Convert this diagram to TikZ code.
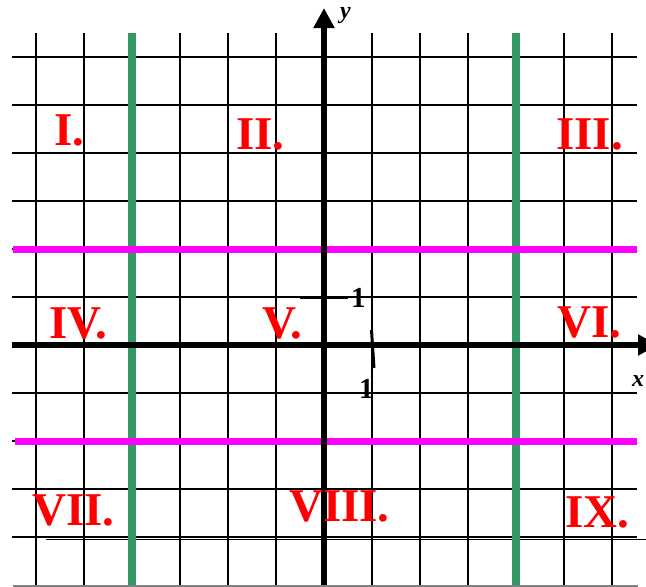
\documentclass[tikz,border=0pt]{standalone}
\usepackage{fontspec}
\setmainfont{Liberation Serif}
\usetikzlibrary{arrows.meta}
\definecolor{gridgreen}{RGB}{51,153,102}
\definecolor{magline}{RGB}{255,0,255}
\definecolor{labred}{RGB}{255,0,0}
\begin{document}
\begin{tikzpicture}[x=1pt,y=-1pt,
  gridline/.style={black,line width=1.8pt},
  greenline/.style={gridgreen,line width=7.5pt},
  magentaline/.style={magline,line width=7pt},
  axisline/.style={black,line width=6pt,-{Triangle[length=20pt,width=20pt]}},
  region/.style={text=labred,font=\fontsize{47}{47}\selectfont\bfseries,inner sep=0pt,anchor=base west},
  tick/.style={black,line width=3pt},
  ticklabel/.style={font=\fontsize{29}{29}\selectfont\bfseries,inner sep=0pt,anchor=base west},
  axislabel/.style={font=\fontsize{24}{24}\selectfont\bfseries\itshape,inner sep=0pt,anchor=base west}]
\useasboundingbox (0,0) rectangle (646,587);
% grid: vertical lines
\foreach \gx in {36,84,132,180,228,276,324,372,420,468,516,564,612}
  \draw[gridline] (\gx,33) -- (\gx,587);
% grid: horizontal lines
\foreach \gy in {57,105,153,201,249,297,345,393,441,489,537}
  \draw[gridline] (12,\gy) -- (637,\gy);
\draw[gridline] (46,539.5) -- (646,539.5);
\draw[gray,line width=1.8pt] (13,586) -- (638,586);
% coloured lines
\draw[greenline] (132,33) -- (132,585);
\draw[greenline] (516,33) -- (516,585);
\draw[magentaline] (13,249) -- (637,249);
\draw[magentaline] (15,441) -- (637,441);
% axes
\draw[axisline] (12,345) -- (658,345);
\draw[axisline] (324,585) -- (324,8);
\node[axislabel] (ylab) at (340,18) {y};
\node[axislabel] (xlab) at (632,386) {x};
% ticks
\draw[tick] (300,297) -- (348,297);
\node[ticklabel] (one-y) at (351,307) {1};
\draw[tick] (371.5,330) -- (374,368);
\node[ticklabel] (one-x) at (359,398) {1};
% region labels
\node[region] (r1) at (54,145) {I.};
\node[region] (r2) at (236,149) {II.};
\node[region] (r3) at (556,149) {III.};
\node[region] (r4) at (49,338) {IV.};
\node[region] (r5) at (262,338) {V.};
\node[region] (r6) at (557,337) {VI.};
\node[region] (r7) at (32,525) {VII.};
\node[region] (r8) at (289,521) {VIII.};
\node[region] (r9) at (565,527) {IX.};
\end{tikzpicture}
\end{document}
